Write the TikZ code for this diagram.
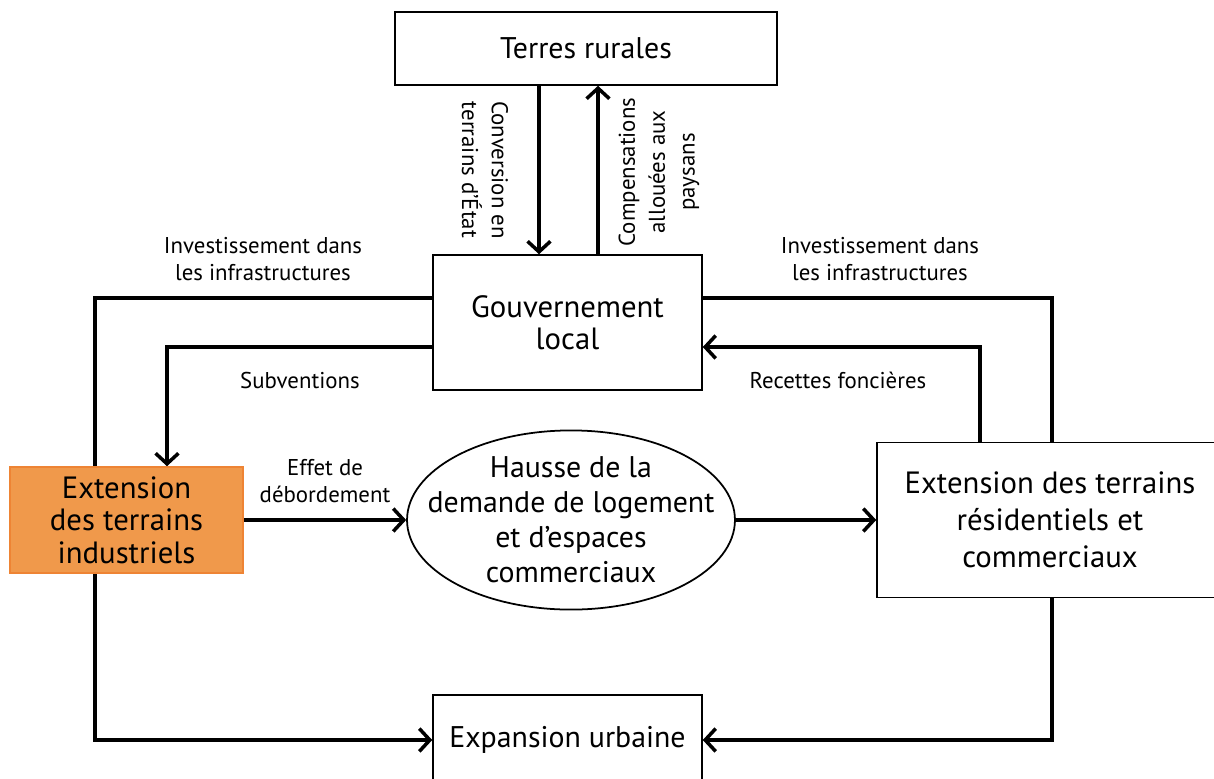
\documentclass[tikz,border=0pt]{standalone}
\usepackage{fontspec}
\setmainfont{PT Sans}
\usetikzlibrary{arrows.meta,shapes.geometric,backgrounds}
\definecolor{indfill}{HTML}{F0994B}
\definecolor{inddraw}{HTML}{EE8434}

\begin{document}
\begin{tikzpicture}[x=0.02cm, y=-0.02cm,
    box/.style={draw, line width=0.9pt, align=center, inner sep=0pt, font=\fontsize{17}{19}\selectfont},
    flow/.style={line width=2.8pt, -{Straight Barb[length=6pt,width=13pt,line width=2pt]}},
    link/.style={line width=2.8pt},
    lbl/.style={align=center, font=\fontsize{13}{15.5}\selectfont}]
  \useasboundingbox (0,0) rectangle (1214,778);

  % Boxes
  \node[box, minimum width=7.64cm, minimum height=1.46cm] (rural) at (586,48.5) {Terres rurales};
  \node[box, minimum width=5.38cm, minimum height=2.7cm, font=\fontsize{17.5}{18}\selectfont] (gov) at (567.5,322.5) {Gouvernement\\local};
  \node[box, fill=indfill, draw=inddraw, minimum width=4.66cm, minimum height=2.12cm, font=\fontsize{17.5}{18.5}\selectfont] (ind) at (126.5,520) {Extension\\des terrains\\industriels};
  \node[ellipse, draw, line width=1pt, minimum width=6.56cm, minimum height=3.04cm, inner xsep=-0.6cm, inner ysep=0pt, align=center, font=\fontsize{17}{20}\selectfont] (demand) at (571,520) {Hausse de la\\demande de logement\\et d’espaces\\commerciaux};
  \node[box, minimum width=6.92cm, minimum height=3.1cm, font=\fontsize{17.5}{21}\selectfont] (res) at (1050,520) {Extension des terrains\\résidentiels et\\commerciaux};
  \node[box, minimum width=5.38cm, minimum height=1.8cm] (urban) at (567.5,740) {Expansion urbaine};

  % Flows between rural land and local government
  \draw[flow] (539,0 |- rural.south) -- (539,0 |- gov.north);
  \draw[flow] (598,0 |- gov.north) -- (598,0 |- rural.south);
  \node[lbl, rotate=-90, font=\fontsize{13}{17}\selectfont] (conv) at (485,170) {Conversion en\\terrains d’État};
  \node[lbl, rotate=90, font=\fontsize{13}{17}\selectfont] (comp) at (659,172) {Compensations\\allouées aux\\paysans};

  % Investment lines
  \begin{scope}[on background layer]
    \draw[flow] (gov.west |- 0,298) -| (95,740) -- (urban.west);
  \end{scope}
  \draw[link] (gov.east |- 0,298) -| (1052,0 |- res.north);
  \draw[flow] (1052,0 |- res.south) |- (urban.east);
  \node[lbl] (investl) at (263,259) {Investissement dans\\les infrastructures};
  \node[lbl] (investr) at (880,259) {Investissement dans\\les infrastructures};

  % Subsidies and land revenue
  \draw[flow] (gov.west |- 0,347) -| (167,0 |- ind.north);
  \draw[flow] (980,0 |- res.north) |- (gov.east |- 0,347);
  \node[lbl] (subv) at (300,380) {Subventions};
  \node[lbl] (recet) at (838,380) {Recettes foncières};

  % Spillover
  \draw[flow] (ind.east) -- (demand.west);
  \draw[flow] (demand.east) -- (res.west);
  \node[lbl] (spill) at (325,481) {Effet de\\débordement};
\end{tikzpicture}
\end{document}
